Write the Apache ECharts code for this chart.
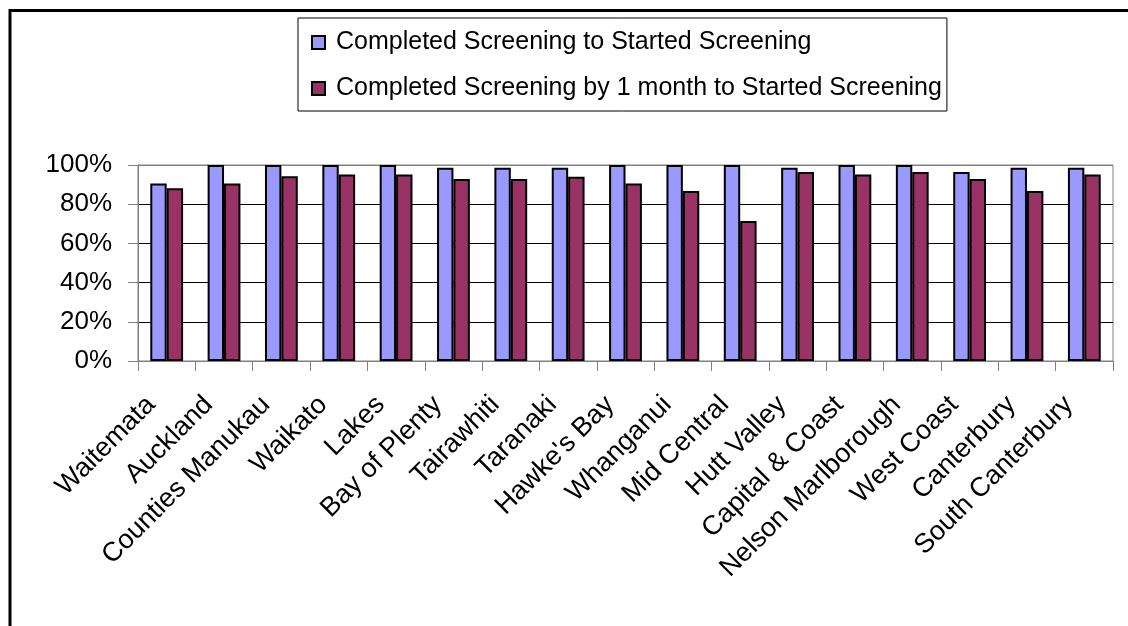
<!DOCTYPE html>
<html>
<head>
<meta charset="utf-8">
<script src="https://cdn.jsdelivr.net/npm/echarts@6/dist/echarts.min.js"></script>
<style>
  html, body { margin: 0; padding: 0; background: #fff; }
  #chart { width: 1128px; height: 626px; }
</style>
</head>
<body>
<div id="chart"></div>
<script>
// District health boards
const categories = [
  'Waitemata', 'Auckland', 'Counties Manukau', 'Waikato', 'Lakes',
  'Bay of Plenty', 'Tairawhiti', 'Taranaki', "Hawke's Bay", 'Whanganui',
  'Mid Central', 'Hutt Valley', 'Capital & Coast', 'Nelson Marlborough',
  'West Coast', 'Canterbury', 'South Canterbury'
];

// Percent of those who started screening
const completed = [90.5, 100, 100, 100, 100, 98.6, 98.6, 98.6, 100, 100, 100, 98.6, 100, 100, 96.4, 98.6, 98.6];
const completedWithinMonth = [88.1, 90.5, 94.2, 95.2, 95.2, 92.9, 92.9, 94.0, 90.5, 86.7, 71.4, 96.4, 95.2, 96.4, 92.9, 86.7, 95.2];

const seriesNames = [
  'Completed Screening to Started Screening',
  'Completed Screening by 1 month to Started Screening'
];

const font = 'Liberation Sans, Arial, sans-serif';
const chart = echarts.init(document.getElementById('chart'));

chart.setOption({
  animation: false,
  backgroundColor: '#ffffff',
  textStyle: { fontFamily: font, color: '#000' },
  graphic: [{
    type: 'rect',
    shape: { x: 10, y: 10.5, width: 1300, height: 800 },
    style: { fill: 'none', stroke: '#000', lineWidth: 3 },
    silent: true
  }],
  legend: {
    orient: 'vertical',
    left: 298,
    top: 18,
    padding: [12, 5, 10, 13],
    itemGap: 21,
    itemWidth: 13,
    itemHeight: 13,
    icon: 'rect',
    borderColor: '#000',
    borderWidth: 1,
    textStyle: { fontFamily: font, fontSize: 25, color: '#000', padding: [0, 0, 0, 6] },
    data: seriesNames
  },
  grid: {
    left: 138,
    right: 15,
    top: 165,
    bottom: 265,
    show: true,
    borderColor: '#808080',
    borderWidth: 1,
    containLabel: false
  },
  xAxis: {
    type: 'category',
    data: categories,
    axisLine: { lineStyle: { color: '#808080', width: 1 } },
    axisTick: { show: true, alignWithLabel: false, length: 10, lineStyle: { color: '#808080' } },
    axisLabel: {
      rotate: 45,
      interval: 0,
      margin: 24,
      padding: [0, 22, 0, 0],
      fontSize: 27,
      fontFamily: font,
      color: '#000'
    }
  },
  yAxis: {
    type: 'value',
    min: 0,
    max: 100,
    interval: 20,
    axisLine: { show: true, lineStyle: { color: '#808080' } },
    axisTick: { show: true, length: 10, lineStyle: { color: '#808080' } },
    axisLabel: {
      formatter: '{value}%',
      fontSize: 26,
      fontFamily: font,
      color: '#000',
      margin: 26
    },
    splitLine: {
      show: true,
      lineStyle: { color: ['#808080', '#000', '#000', '#000', '#000', '#808080'], width: 1 }
    }
  },
  series: [
    {
      name: seriesNames[0],
      type: 'bar',
      data: completed,
      barGap: '0%',
      barCategoryGap: '42.8%',
      itemStyle: { color: '#9999FF', borderColor: '#000', borderWidth: 2 }
    },
    {
      name: seriesNames[1],
      type: 'bar',
      data: completedWithinMonth,
      itemStyle: { color: '#993366', borderColor: '#000', borderWidth: 2 }
    }
  ]
});
</script>
</body>
</html>
